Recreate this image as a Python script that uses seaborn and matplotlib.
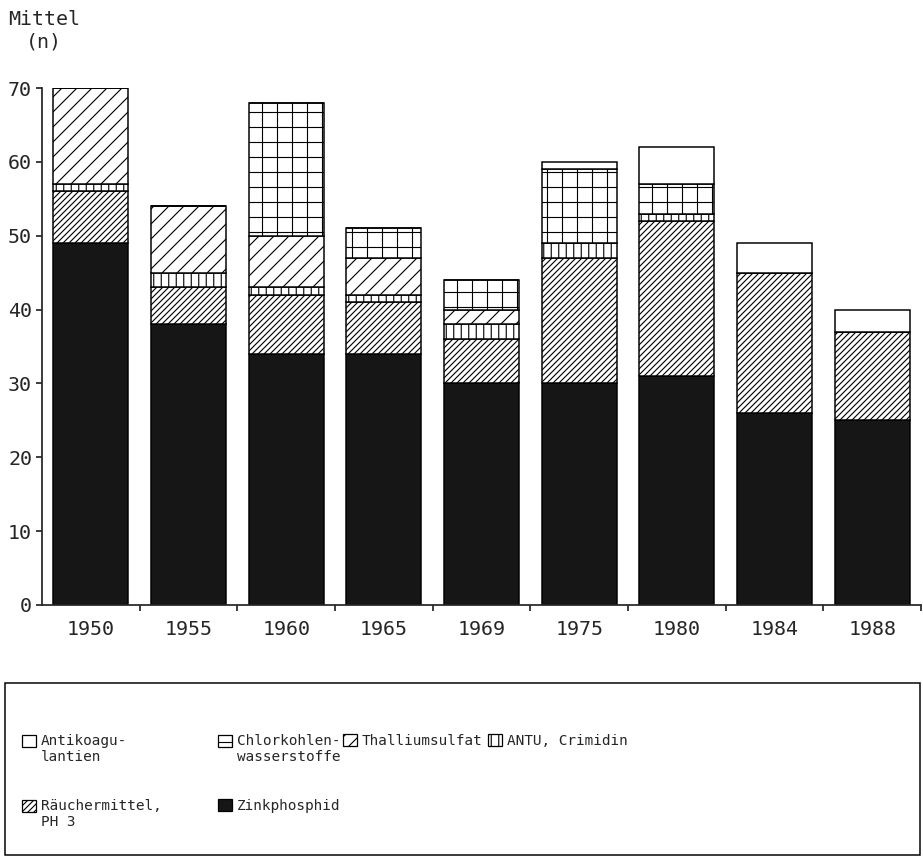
import numpy as np
import pandas as pd
import seaborn as sns
import matplotlib.pyplot as plt
from matplotlib.patches import Patch, Rectangle

# values (number of agents per year, stacked)
years = ["1950", "1955", "1960", "1965", "1969", "1975", "1980", "1984", "1988"]
zink = [49, 38, 34, 34, 30, 30, 31, 26, 25]
raeucher = [7, 5, 8, 7, 6, 17, 21, 19, 12]
antu = [1, 2, 1, 1, 2, 2, 1, 0, 0]
thallium = [13, 9, 7, 5, 2, 0, 0, 0, 0]
chlor = [0, 0, 18, 4, 4, 10, 4, 0, 0]
antikoag = [0, 0, 0, 0, 0, 1, 5, 4, 3]

df = pd.DataFrame({"Jahr": years, "zink": zink, "raeucher": raeucher, "antu": antu,
                   "thallium": thallium, "chlor": chlor, "antikoag": antikoag})

BLACK = "#161616"
# bottom -> top: column, facecolor, hatch
layers = [("zink", BLACK, ""),
          ("raeucher", "white", "/////"),
          ("antu", "white", "||"),
          ("thallium", "white", "//"),
          ("chlor", "white", "+"),
          ("antikoag", "white", "")]

sns.set_style("ticks")
plt.rcParams['font.family'] = ['DejaVu Sans Mono']
plt.rcParams['hatch.linewidth'] = 0.9
plt.rcParams['hatch.color'] = 'black'

dpi = 90
fig = plt.figure(figsize=(923 / dpi, 864 / dpi), dpi=dpi)
ax = fig.add_axes([42 / 923, 1 - 605 / 864, 879 / 923, 517 / 864])

bottom = np.zeros(len(years))
for col, fc, hatch in layers:
    sns.barplot(x="Jahr", y=col, data=df, color=fc, saturation=1, width=0.77,
                hatch=hatch, edgecolor="black", linewidth=1.2, bottom=bottom,
                ax=ax, zorder=2)
    bottom = bottom + df[col].to_numpy()

ax.set_xlim(-0.5, 8.5)
ax.set_ylim(0, 70)
ax.set_yticks(range(0, 71, 10))
ax.set_xticks(range(len(years)))
ax.set_xticklabels(years)
ax.set_xticks(np.arange(0.5, len(years), 1), minor=True)
ax.set_xlabel("")
ax.set_ylabel("")
ax.spines["top"].set_visible(False)
ax.spines["right"].set_visible(False)
for s in ["left", "bottom"]:
    ax.spines[s].set_linewidth(1.4)
ax.tick_params(axis="x", which="major", length=0, pad=12, labelsize=16)
ax.tick_params(axis="x", which="minor", length=5, width=1.4, direction="out")
ax.tick_params(axis="y", length=5, width=1.4, pad=3, labelsize=16)

fig.text(8 / 923, 1 - 10 / 864, "Mittel\n(n)", ha="left", va="top",
         multialignment="center", fontsize=16)

# legend box
fig.add_artist(Rectangle((5 / 923, 1 - 855 / 864), 915 / 923, 172 / 864,
                         transform=fig.transFigure, fill=False,
                         edgecolor="black", linewidth=1.2))

# legend columns: (x of icon, [(label, facecolor, hatch), ...])
leg_cols = [(22, [("Antikoagu-\nlantien", "white", ""),
                  ("Räuchermittel,\nPH 3", "white", "/////")]),
            (218, [("Chlorkohlen-\nwasserstoffe", "white", "+"),
                   ("Zinkphosphid", BLACK, "")]),
            (343, [("Thalliumsulfat", "white", "//")]),
            (488, [("ANTU, Crimidin", "white", "||")])]
fs = 11.5
for x0, items in leg_cols:
    hs = [Patch(facecolor=fc, edgecolor="black", hatch=h, linewidth=1.0) for _, fc, h in items]
    ls = [lab for lab, _, _ in items]
    leg = fig.legend(hs, ls, loc="upper left", bbox_to_anchor=(x0 / 923, 1 - 734 / 864),
                     frameon=False, fontsize=fs, handlelength=0.95, handleheight=0.95,
                     handletextpad=0.35, labelspacing=2.4, borderpad=0, borderaxespad=0)
    # put the icon next to the first line of a two-line label
    for p, lab in zip(leg.legend_handles, ls):
        if "\n" in lab:
            p.set_y(p.get_y() + 0.6 * fs)

fig.savefig("out.png", dpi=dpi)
